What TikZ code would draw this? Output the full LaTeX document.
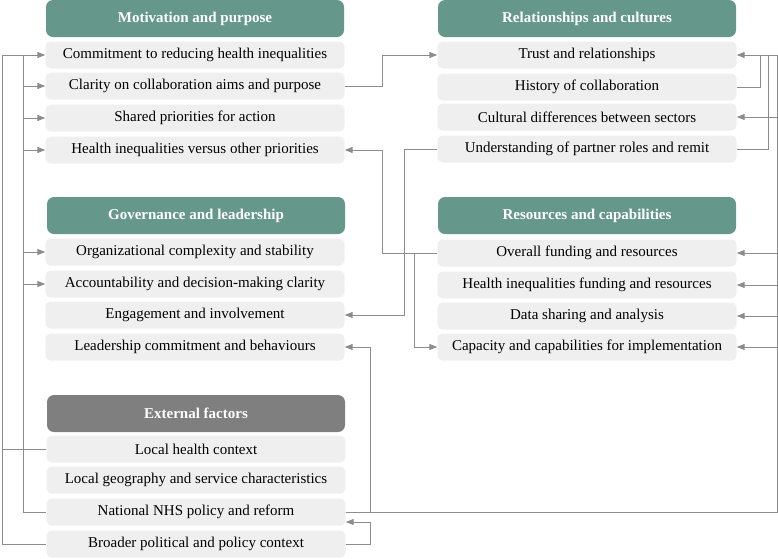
\documentclass[tikz,border=0pt]{standalone}
\usepackage{fontspec}
\setmainfont{Liberation Serif}
\usetikzlibrary{arrows.meta,calc}
\definecolor{hdrgreen}{HTML}{65988A}
\definecolor{hdrgray}{HTML}{7F7F7F}
\definecolor{itemfill}{HTML}{EFEFEF}
\definecolor{linegray}{HTML}{8C8C8C}
\begin{document}
\begin{tikzpicture}[x=1pt,y=-1pt,
  hdr/.style={fill=hdrgreen, rounded corners=7pt, minimum width=298pt, minimum height=37pt, text=white, font=\fontsize{15}{18}\selectfont\bfseries, inner sep=0pt},
  hdrx/.style={hdr, fill=hdrgray},
  item/.style={fill=itemfill, rounded corners=5pt, minimum width=299pt, minimum height=27pt, font=\fontsize{15}{18}\selectfont, inner sep=0pt},
  conn/.style={draw=linegray, line width=1pt},
  arr/.style={conn, -{Triangle[length=8pt,width=6pt]}},
]
\useasboundingbox (0,0) rectangle (778,558);
% left column
\node[hdr]  (mh)     at (195,18.5) {Motivation and purpose};
\node[item] (commit) at (195,55)  {Commitment to reducing health inequalities};
\node[item] (clar)   at (195,86)  {Clarity on collaboration aims and purpose};
\node[item] (shared) at (195,118) {Shared priorities for action};
\node[item] (hvo)    at (195,150) {Health inequalities versus other priorities};
\node[hdr]  (gh)     at (196,215.5) {Governance and leadership};
\node[item] (org)    at (195,252) {Organizational complexity and stability};
\node[item] (acc)    at (195,284) {Accountability and decision-making clarity};
\node[item] (eng)    at (195,315) {Engagement and involvement};
\node[item] (lead)   at (195,347) {Leadership commitment and behaviours};
\node[hdrx] (eh)     at (196,413.5) {External factors};
\node[item] (lh)     at (196,449) {Local health context};
\node[item] (geo)    at (196,480) {Local geography and service characteristics};
\node[item] (nat)    at (196,512) {National NHS policy and reform};
\node[item] (br)     at (196,544) {Broader political and policy context};
% right column
\node[hdr]  (rh)     at (587,18.5) {Relationships and cultures};
\node[item] (trust)  at (587,55)  {Trust and relationships};
\node[item] (hist)   at (587,87)  {History of collaboration};
\node[item] (cult)   at (587,117) {Cultural differences between sectors};
\node[item] (und)    at (587,149) {Understanding of partner roles and remit};
\node[hdr]  (resh)   at (587,215.5) {Resources and capabilities};
\node[item] (over)   at (587,253) {Overall funding and resources};
\node[item] (hif)    at (587,285) {Health inequalities funding and resources};
\node[item] (data)   at (587,316) {Data sharing and analysis};
\node[item] (cap)    at (587,347) {Capacity and capabilities for implementation};
% guide coordinates
\coordinate (L1) at (2.5,0);
\coordinate (L2) at (23,0);
\coordinate (R1) at (777,0);
\coordinate (R2) at (768,0);
\coordinate (R3) at (760,0);
\coordinate (M1) at (382,0);
\coordinate (M2) at (404,0);
\coordinate (M3) at (414,0);
\coordinate (M4) at (370,0);
% left connectors
\draw[arr] (lh.west) -| (L1 |- commit.west) -- (commit.west);
\draw[conn] (br.west) -| (L1 |- lh.west);
\draw[conn] (nat.west) -| (L2 |- commit.west);
\foreach \n in {clar,shared,hvo,org,acc} \draw[arr] (L2 |- \n.west) -- (\n.west);
% right connectors
\draw[arr] (nat.east) -| (R1 |- trust.east) -- (trust.east);
\draw[conn] (hist.east) -| (R3 |- trust.east);
\draw[conn] (und.east) -| (R2 |- trust.east);
\foreach \n in {cult,over,hif,data,cap} \draw[arr] (R1 |- \n.east) -- (\n.east);
\draw[arr] (M4 |- nat.east) |- (lead.east);
\draw[arr] (br.east) -| ($(M4 |- nat.east)+(0,10)$) -- ($(nat.east)+(0,10)$);
% middle connectors
\draw[arr] (clar.east) -| (M1 |- trust.west) -- (trust.west);
\draw[arr] (over.west) -| (M1 |- hvo.east) -- (hvo.east);
\draw[arr] (over.west) -| (M3 |- cap.west) -- (cap.west);
\draw[arr] (und.west) -| (M2 |- eng.east) -- (eng.east);
\end{tikzpicture}
\end{document}
